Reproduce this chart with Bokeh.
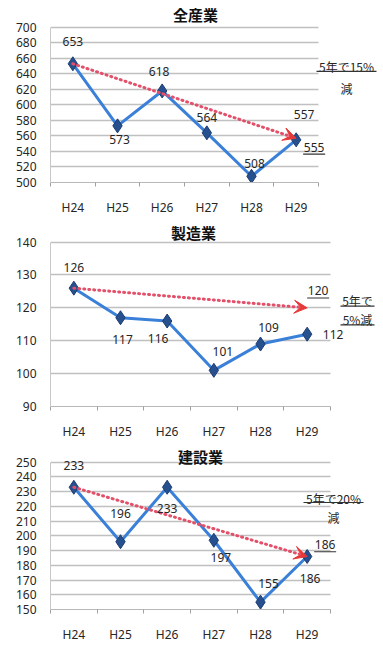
from bokeh.plotting import figure
from bokeh.layouts import column
from bokeh.models import Range1d, FixedTicker, ColumnDataSource, LabelSet, Label, Arrow, VeeHead, BoxAnnotation
from bokeh.core.properties import value
from bokeh.embed import file_html
from bokeh.resources import INLINE

# ---------------- data ----------------
years = ["H24", "H25", "H26", "H27", "H28", "H29"]

all_title = "全産業"
all_vals = [653, 573, 618, 564, 508, 555]
all_target = 557
all_yticks = [500, 520, 540, 560, 580, 600, 620, 640, 660, 680, 700]
all_notes = ["5年で15%", "減"]

mfg_title = "製造業"
mfg_vals = [126, 117, 116, 101, 109, 112]
mfg_target = 120
mfg_yticks = [90, 100, 110, 120, 130, 140]
mfg_notes = ["5年で", "5%減"]

con_title = "建設業"
con_vals = [233, 196, 233, 197, 155, 186]
con_target = 186
con_yticks = [150, 160, 170, 180, 190, 200, 210, 220, 230, 240, 250]
con_notes = ["5年で20%", "減"]

# ---------------- styling ----------------
JP = "Noto Sans CJK JP"
NUM = "Noto Sans"
W = 383
LEFT = 50
BLUE = "#3a80d8"
MARK = "#27508f"
RED = "#e2506a"
TXT = "#262626"


def make_panel(title, vals, target, yticks, notes, height, btop, bbottom, bright,
               title_off, val_offs, val_ul, tgt_off, tgt_ul, note_offs, note_ul):
    ymin, ymax = yticks[0], yticks[-1]
    n = len(years)
    fw = W - LEFT - bright          # width of the plotted (gridded) area
    fh = height - btop - bbottom    # height of the plotted area
    xppu = fw / float(n)
    yppu = fh / float(ymax - ymin)
    # frame extends to top and right edges so that texts there are not clipped
    p = figure(width=W, height=height, output_backend="svg", toolbar_location=None,
               x_range=Range1d(-0.5, n - 0.5 + bright / xppu),
               y_range=Range1d(ymin, ymax + btop / yppu),
               min_border_left=LEFT, min_border_right=0,
               min_border_top=0, min_border_bottom=bbottom)
    p.outline_line_color = None

    xs = list(range(n))
    # axes
    p.xaxis.ticker = FixedTicker(ticks=xs, minor_ticks=[i - 0.5 for i in range(n + 1)])
    p.xaxis.bounds = (-0.5, n - 0.5)
    p.xaxis.major_label_overrides = {i: y for i, y in enumerate(years)}
    p.xaxis.major_tick_line_color = None
    p.xaxis.major_tick_out = 0
    p.xaxis.minor_tick_line_color = "#a0a0a0"
    p.xaxis.minor_tick_in = 0
    p.xaxis.minor_tick_out = 4
    p.xaxis.axis_line_color = "#b8b8b8"
    p.xaxis.major_label_standoff = 12
    p.xaxis.major_label_text_font = NUM
    p.xaxis.major_label_text_font_size = "12px"
    p.xaxis.major_label_text_color = TXT

    p.yaxis.ticker = FixedTicker(ticks=yticks)
    p.yaxis.bounds = (ymin, ymax)
    p.yaxis.major_tick_line_color = None
    p.yaxis.minor_tick_line_color = None
    p.yaxis.major_tick_out = 0
    p.yaxis.axis_line_color = "#c8c8c8"
    p.yaxis.major_label_standoff = 14
    p.yaxis.major_label_text_font = NUM
    p.yaxis.major_label_text_font_size = "12px"
    p.yaxis.major_label_text_color = TXT

    p.xgrid.visible = False
    try:
        p.ygrid.cross_bounds = (-0.5, n - 0.5)
        p.ygrid.ticker = FixedTicker(ticks=yticks)
        p.ygrid.grid_line_color = "#c0c0c0"
        p.ygrid.grid_line_width = 1.5
    except AttributeError:
        p.ygrid.visible = False
        p.segment(x0=[-0.5] * len(yticks), x1=[n - 0.5] * len(yticks), y0=yticks, y1=yticks,
                  line_color="#c0c0c0", line_width=1.5)

    # series
    p.line(xs, vals, line_color=BLUE, line_width=3)
    p.scatter(xs, vals, marker="diamond", size=14, fill_color=MARK, line_color="#1c3c70", line_width=1)

    # trend arrow to target
    p.add_layout(Arrow(end=VeeHead(size=13, fill_color="#e8393a", line_color="#e8393a"),
                       x_start=xs[0], y_start=vals[0], x_end=xs[-1], y_end=target,
                       line_color=RED, line_width=3, line_dash="1 4", line_cap="round"))

    def underline(ax, ay, dx, dy, w):
        cx = ax + dx / xppu
        cy = ay + dy / yppu
        p.add_layout(BoxAnnotation(left=cx - w / 2.0 / xppu, right=cx + w / 2.0 / xppu,
                                   bottom=cy - 0.6 / yppu, top=cy + 0.6 / yppu,
                                   fill_color="#333333", fill_alpha=1.0,
                                   line_color=None, level="overlay"))

    # value labels
    src = ColumnDataSource(dict(x=xs, y=vals, t=[str(v) for v in vals],
                                dx=[o[0] for o in val_offs], dy=[o[1] for o in val_offs]))
    p.add_layout(LabelSet(x="x", y="y", text="t", source=src, x_offset="dx", y_offset="dy",
                          text_align="center", text_baseline="middle",
                          text_font=value(NUM), text_font_size="12px", text_color=TXT))
    if val_ul is not None:
        i, w = val_ul
        underline(xs[i], vals[i], val_offs[i][0], val_offs[i][1] - 7, w)

    # target label
    p.add_layout(Label(x=xs[-1], y=target, text=str(target), x_offset=tgt_off[0], y_offset=tgt_off[1],
                       text_align="center", text_baseline="middle",
                       text_font=NUM, text_font_size="12px", text_color=TXT))
    if tgt_ul is not None:
        underline(xs[-1], target, tgt_off[0], tgt_off[1] - 7, tgt_ul)

    # title
    p.add_layout(Label(x=(n - 1) / 2.0, y=ymax, text=title, x_offset=title_off[0], y_offset=title_off[1],
                       text_align="center", text_baseline="middle",
                       text_font=JP, text_font_size="15px", text_font_style="bold", text_color="#111111"))

    # notes at right
    for k, (txt, (dx, down)) in enumerate(zip(notes, note_offs)):
        p.add_layout(Label(x=n - 0.5, y=ymax, text=txt, x_offset=dx, y_offset=-down,
                           text_align="center", text_baseline="middle",
                           text_font=JP, text_font_size="12px", text_color=TXT))
        if note_ul[k]:
            underline(n - 0.5, ymax, dx, -down - 7, note_ul[k])
    return p


p1 = make_panel(all_title, all_vals, all_target, all_yticks, all_notes,
                height=218, btop=28, bbottom=28, bright=65,
                title_off=(11, 13),
                val_offs=[(0, 22), (2, -14), (-3, 19), (0, 15), (3, 13), (18, -8)],
                val_ul=(5, 22), tgt_off=(8, 24), tgt_ul=None,
                note_offs=[(28, 39), (28, 61)], note_ul=[60, 0])

p2 = make_panel(mfg_title, mfg_vals, mfg_target, mfg_yticks, mfg_notes,
                height=224, btop=24, bbottom=33, bright=53,
                title_off=(3, 10),
                val_offs=[(0, 21), (2, -22), (-9, -17), (9, 19), (8, 17), (26, 0)],
                val_ul=None, tgt_off=(11, 17), tgt_ul=22,
                note_offs=[(27, 58), (27, 77)], note_ul=[34, 34])

p3 = make_panel(con_title, con_vals, con_target, con_yticks, con_notes,
                height=203, btop=21, bbottom=25, bright=53,
                title_off=(10, 6),
                val_offs=[(0, 22), (0, 28), (0, -21), (7, -17), (8, 19), (3, -22)],
                val_ul=None, tgt_off=(18, 12), tgt_ul=22,
                note_offs=[(3, 36), (3, 55)], note_ul=[60, 0])

layout = column(p1, p2, p3, spacing=0)
open("out.html", "w").write(file_html(layout, INLINE))
